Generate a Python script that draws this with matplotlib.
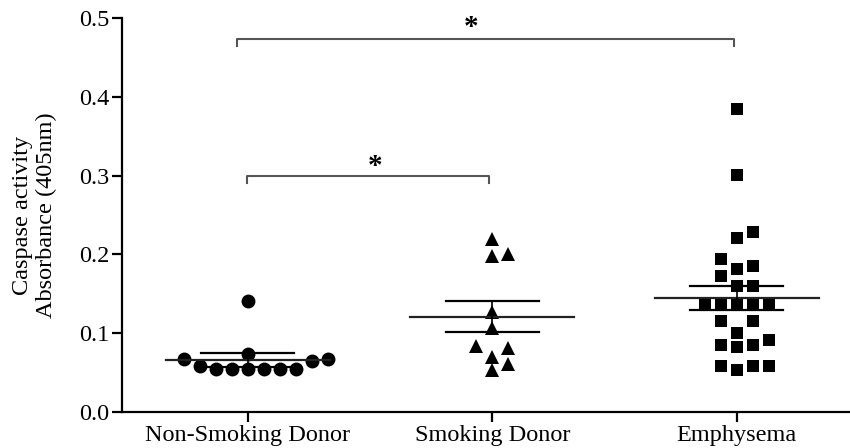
import matplotlib
matplotlib.use("Agg")
import matplotlib.pyplot as plt
import numpy as np

plt.rcParams['font.family'] = ['Liberation Serif', 'DejaVu Serif']

categories = ["Non-Smoking Donor", "Smoking Donor", "Emphysema"]
non_smoking = [0.141, 0.074, 0.067, 0.067, 0.065, 0.058,
               0.054, 0.054, 0.054, 0.054, 0.054, 0.054]
smoking = [0.2195, 0.198, 0.201, 0.127, 0.106, 0.0837, 0.081, 0.070, 0.053, 0.061]
emphysema = [0.3845, 0.301, 0.2204, 0.2288, 0.1938, 0.185, 0.172, 0.1815,
             0.160, 0.160, 0.138, 0.138, 0.138, 0.138, 0.138, 0.1155, 0.1155,
             0.0998, 0.0914, 0.085, 0.082, 0.085, 0.058, 0.058, 0.058, 0.053]
means = [0.066, 0.121, 0.145]
sems = [0.0085, 0.0195, 0.015]
y_ticks = [0.0, 0.1, 0.2, 0.3, 0.4, 0.5]
y_label = "Caspase activity\nAbsorbance (405nm)"
sig_pairs = [(0, 1, 0.30), (0, 2, 0.473)]

W, H, DPI = 850, 448, 100
fig = plt.figure(figsize=(W / DPI, H / DPI), dpi=DPI)
ax_left, ax_bottom = 122 / W, 36 / H
ax_w, ax_h = 1 - ax_left, 394 / H
ax = fig.add_axes([ax_left, ax_bottom, ax_w, ax_h])
xlim = (-0.514, 2.463)
ylim = (0.0, 0.5)
ax.set_xlim(*xlim)
ax.set_ylim(*ylim)

px_x = ax_w * W / (xlim[1] - xlim[0])
px_y = ax_h * H / (ylim[1] - ylim[0])


def swarm(vals, dx_px=16, h_px=13):
    vals = np.asarray(vals)
    order = np.argsort(vals, kind="stable")
    placed = []
    offs = np.zeros(len(vals))
    for i in order:
        y = vals[i] * px_y
        k = 0
        cands = [0]
        for j in range(1, 20):
            cands += [j, -j]
        for c in cands:
            if all(not (pc == c and abs(py - y) < h_px) for pc, py in placed):
                k = c
                break
        placed.append((k, y))
        offs[i] = k * dx_px / px_x
    return offs


groups = [non_smoking, smoking, emphysema]
markers = ['o', '^', 's']
msizes = [10, 10, 9]
for gi, (vals, mk, ms) in enumerate(zip(groups, markers, msizes)):
    offs = swarm(vals)
    ax.plot(gi + offs, vals, linestyle='none', marker=mk, ms=ms,
            color='black', markeredgewidth=0, zorder=3)
    m, s = means[gi], sems[gi]
    ax.plot([gi - 0.335, gi + 0.335], [m, m], color='#222222', lw=1.6, zorder=4)
    ax.plot([gi - 0.19, gi + 0.19], [m + s, m + s], color='black', lw=1.6, zorder=4)
    ax.plot([gi - 0.19, gi + 0.19], [m - s, m - s], color='black', lw=1.6, zorder=4)
    ax.plot([gi, gi], [m - s, m + s], color='black', lw=1.2, zorder=4)

for a, b, yb in sig_pairs:
    xa = a - (0.043 if b == 2 else 0.004)
    xb = b - (0.01 if b == 2 else 0.013)
    ax.plot([xa, xa, xb, xb], [yb - 0.009, yb, yb, yb - 0.009],
            color='#555555', lw=1.5, clip_on=False)
    ax.text((xa + xb) / 2 - (0.06 if b == 2 else -0.03),
            yb + (0.015 if b == 2 else 0.011), '*',
            ha='center', va='center', fontsize=21, fontweight='bold', color='black')

ax.spines['top'].set_visible(False)
ax.spines['right'].set_visible(False)
ax.spines['left'].set_linewidth(1.6)
ax.spines['bottom'].set_linewidth(1.6)
ax.set_yticks(y_ticks)
ax.set_yticklabels([f"{t:.1f}" for t in y_ticks], fontsize=17.5)
ax.set_xticks(range(len(categories)))
ax.set_xticklabels(categories, fontsize=17.5)
ax.tick_params(axis='both', direction='out', length=7, width=1.6, pad=2)
ax.set_ylabel(y_label, fontsize=17.5, linespacing=1.2, labelpad=16)

fig.savefig("out.png", dpi=DPI)
